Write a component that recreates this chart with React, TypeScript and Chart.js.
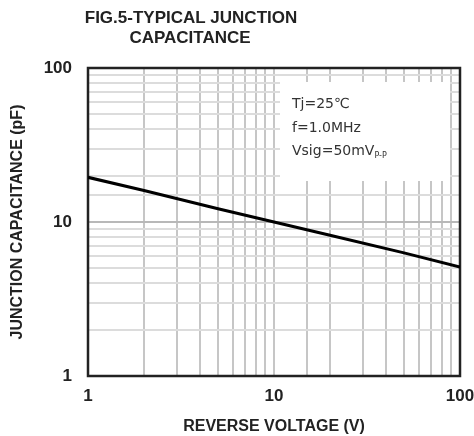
import React, { useEffect, useRef } from "react";
import { Chart, registerables } from "chart.js";

Chart.register(...registerables);

const chartTitle = ["FIG.5-TYPICAL JUNCTION", "CAPACITANCE"];
const xAxisTitle = "REVERSE VOLTAGE (V)";
const yAxisTitle = "JUNCTION CAPACITANCE (pF)";
const voltages = [1, 2, 5, 10, 20, 50, 100];
const capacitance = [19.5, 16, 12.2, 10, 8.2, 6.3, 5.1];
const labeledTicks = [1, 10, 100];
const noteLines = ["Tj=25\u2103", "f=1.0MHz", "Vsig=50mV"];
const noteSub = "P-P";

const isDecade = (v: number) => labeledTicks.includes(v);

const overlayPlugin = {
  id: "overlay",
  beforeDatasetsDraw(chart: any) {
    const { ctx, chartArea } = chart;
    const { left, right, top, bottom } = chartArea;
    ctx.save();
    // white note box
    ctx.fillStyle = "#ffffff";
    ctx.fillRect(280, 82, 170, 99);
    // frame
    ctx.strokeStyle = "#222";
    ctx.lineWidth = 2.5;
    ctx.strokeRect(left, top, right - left, bottom - top);
    // note text
    ctx.fillStyle = "#333";
    ctx.textAlign = "left";
    ctx.textBaseline = "alphabetic";
    ctx.font = "14px 'DejaVu Sans'";
    const bases = [108, 132, 155];
    noteLines.forEach((t, i) => ctx.fillText(t, 292, bases[i]));
    const w = ctx.measureText(noteLines[2]).width;
    ctx.font = "8px 'DejaVu Sans'";
    ctx.fillText(noteSub, 292 + w, 158);
    // title
    ctx.fillStyle = "#222";
    ctx.textAlign = "center";
    ctx.font = "bold 17px 'Liberation Sans'";
    ctx.fillText(chartTitle[0], 191, 23);
    ctx.fillText(chartTitle[1], 190, 43);
    ctx.restore();
  },
};

export default function App() {
  const ref = useRef<HTMLCanvasElement>(null);
  useEffect(() => {
    if (!ref.current) return;
    const chart = new Chart(ref.current, {
      type: "line",
      data: {
        datasets: [
          {
            data: voltages.map((v, i) => ({ x: v, y: capacitance[i] })),
            borderColor: "#000",
            borderWidth: 3,
            pointRadius: 0,
            tension: 0,
            fill: false,
          },
        ],
      },
      options: {
        animation: false,
        responsive: false,
        events: [],
        layout: { padding: { top: 68, right: 14, left: 0, bottom: 0 } },
        plugins: { legend: { display: false }, tooltip: { enabled: false }, title: { display: false } },
        scales: {
          x: {
            type: "logarithmic",
            min: 1,
            max: 100,
            afterFit: (s: any) => {
              s.height = 60;
              s.paddingLeft = 0;
              s.paddingRight = 0;
            },
            border: { display: false },
            grid: {
              drawTicks: false,
              lineWidth: 2,
              color: "#c6c6c6",
            },
            ticks: {
              autoSkip: false,
              maxRotation: 0,
              padding: 10,
              color: "#222",
              font: { family: "'Liberation Sans'", size: 17, weight: "bold" },
              callback: (v: any) => (isDecade(Number(v)) ? String(v) : ""),
            },
            title: {
              display: true,
              text: xAxisTitle,
              color: "#222",
              padding: { top: 0, bottom: 0 },
              font: { family: "'Liberation Sans'", size: 16, weight: "bold" },
            },
          },
          y: {
            type: "logarithmic",
            min: 1,
            max: 100,
            afterFit: (s: any) => {
              s.width = 88;
              s.paddingTop = 0;
              s.paddingBottom = 0;
            },
            border: { display: false },
            grid: {
              drawTicks: false,
              lineWidth: 2,
              color: (c: any) => (c.tick && isDecade(c.tick.value) ? "#b8b8b8" : "#dcdcdc"),
            },
            ticks: {
              autoSkip: false,
              padding: 16,
              color: "#222",
              font: { family: "'Liberation Sans'", size: 17, weight: "bold" },
              callback: (v: any) => (isDecade(Number(v)) ? String(v) : ""),
            },
            title: {
              display: true,
              text: yAxisTitle,
              color: "#222",
              padding: { top: 8, bottom: 0 },
              font: { family: "'Liberation Sans'", size: 16, weight: "bold" },
            },
          },
        },
      },
      plugins: [overlayPlugin],
    } as any);
    return () => chart.destroy();
  }, []);
  return (
    <div style={{ position: "absolute", left: 0, top: 0, width: 474, height: 436, background: "#fff" }}>
      <canvas ref={ref} width={474} height={436} style={{ display: "block" }} />
    </div>
  );
}
